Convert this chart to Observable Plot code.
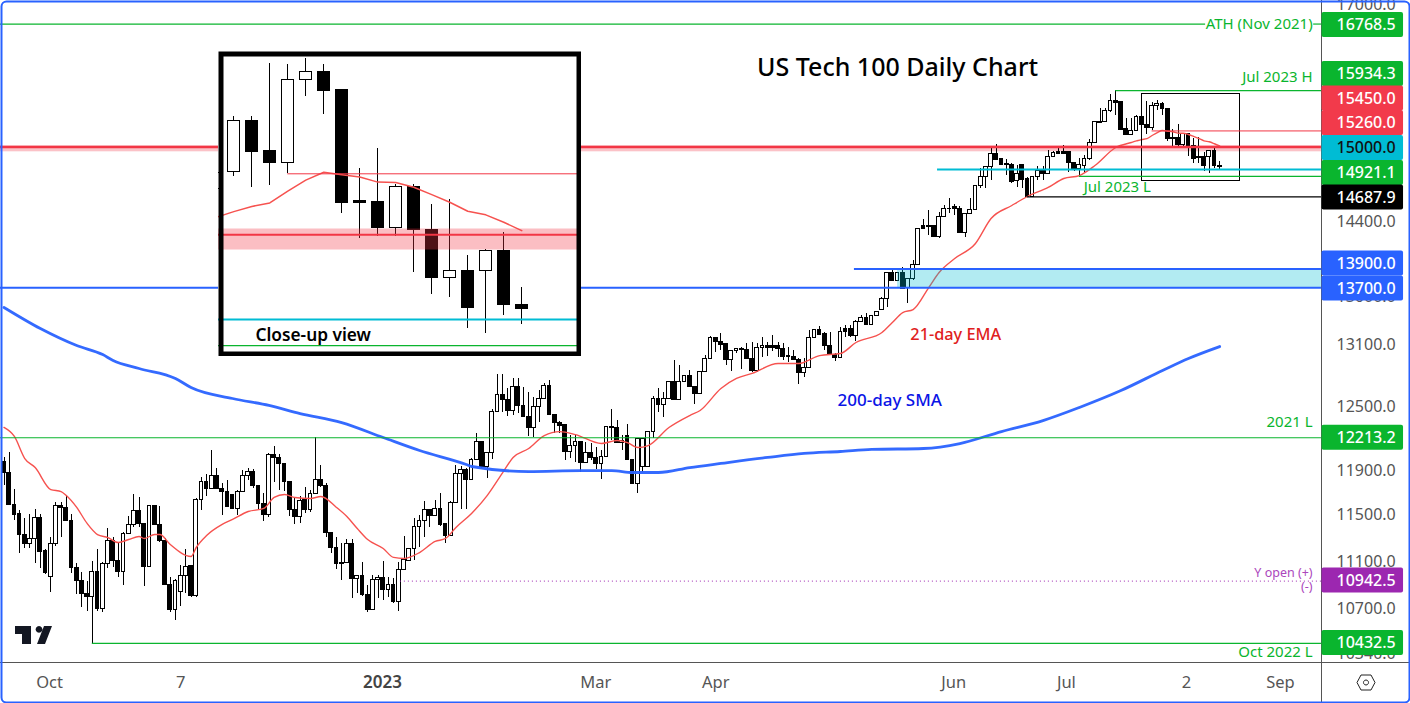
<!DOCTYPE html>
<html>
<head>
<meta charset="utf-8">
<script src="https://cdn.jsdelivr.net/npm/d3@7"></script>
<script src="https://cdn.jsdelivr.net/npm/@observablehq/plot@0.6"></script>
<style>
html,body{margin:0;padding:0;background:#fff}
#wrap{position:relative;width:1410px;height:703px;overflow:hidden}
#wrap svg{display:block}
#inset{position:absolute;left:218px;top:51px;width:363px;height:305px}
</style>
</head>
<body>
<div id="wrap"><div id="main"></div><div id="inset"></div></div>
<script>
const open = [
11984,11889,11602,11516,11337,11259,11302,11486,11194,10978,
11259,11592,11575,11460,11057,10944,10839,10808,11020,10713,
11088,11285,11111,11020,11343,11425,11548,11434,11063,11592,
11425,11288,10911,10704,10853,10989,11066,10820,11646,11807,
11741,11861,11744,11717,11693,11566,11714,11861,11898,11771,
11608,11510,12054,12027,11971,11807,11557,11492,11640,11554,
11699,11825,11774,11354,11225,11097,11094,11259,10961,10986,
10828,10704,10950,10970,10867,10914,10767,11038,11114,11216,
11407,11457,11557,11501,11566,11428,11331,11616,11879,11916,
11825,12008,12175,11941,12069,12458,12621,12573,12464,12699,
12516,12410,12306,12506,12580,12708,12429,12353,12334,12082,
12134,12175,11981,12073,12026,11969,12032,12315,12306,12165,
12225,12008,11786,11941,11941,12269,12583,12525,12577,12751,
12573,12748,12807,12702,12631,12846,12971,13188,13145,13118,
12961,13054,13074,13064,12974,12853,13081,13104,13098,13098,
13074,13007,12997,12964,12833,12879,13185,13266,13219,13104,
13017,12981,13276,13276,13202,13347,13388,13314,13409,13464,
13588,13860,13777,13860,13696,13788,13944,14362,14370,14362,
14242,14469,14558,14570,14558,14286,14499,14540,14813,14910,
15027,15181,15116,15066,15054,14874,15054,14893,14692,14912,
14988,14950,15147,15197,15197,15197,15077,15008,15039,15124,
15310,15558,15554,15686,15806,15798,15475,15403,15455,15615,
15521,15485,15746,15771,15715,15364,15363,15280,15409,15276,
15128,15149,15149,15210,15045];
const high = [
12027,12074,11735,11551,11478,11513,11557,11516,11208,11311,
11622,11622,11684,11516,11094,11015,10939,11111,11211,11097,
11390,11311,11259,11358,11498,11690,11670,11434,11592,11598,
11586,11302,10970,10953,11074,11211,11066,11655,11849,11870,
12094,11928,11789,11819,11693,11729,11910,11925,11916,11771,
11699,12070,12131,12057,11977,11807,11670,11675,11753,11729,
12213.2,11956,11789,11354,11317,11259,11294,11294,10983,11100,
10905,10992,10986,11108,10975,10961,11103,11323,11216,11478,
11507,11634,11557,11640,11699,11428,11634,11956,11947,11925,
12020,12256,12175,12069,12477,12820,12820,12679,12777,12777,
12696,12647,12599,12663,12735,12761,12429,12366,12334,12234,
12234,12175,12172,12156,12119,12094,12315,12477,12375,12234,
12338,12008,12203,12209,12269,12605,12679,12647,12751,12958,
12908,12807,12859,12702,12846,13007,13198,13188,13226,13125,
13057,13081,13091,13125,13141,13125,13185,13141,13208,13141,
13125,13091,13057,12974,12974,13259,13266,13300,13242,13242,
13024,13293,13310,13310,13361,13412,13429,13409,13447,13602,
13860,13901,13860,13918,13788,13990,14333,14432,14536,14370,
14517,14592,14667,14603,14581,14499,14667,14813,15007,15035,
15240,15291,15124,15112,15073,15047,15054,14912,14920,15035,
15035,15220,15212,15240,15275,15197,15077,15124,15162,15349,
15554,15714,15714,15886,15934.3,15798,15594,15594,15629,15631,
15800,15795,15816,15795,15715,15466,15530,15415,15415,15355,
15369,15196,15214,15266,15097];
const low = [
11774,11596,11463,11179,11216,11222,11094,11052,10995,10848,
11240,11317,11457,11009,10831,10726,10694,10432.5,10694,10685,
11052,11054,10975,10905,11340,11398,11398,10900,11054,11419,
11273,10902,10685,10617,10732,10836,10808,10808,11551,11675,
11741,11738,11507,11574,11557,11507,11708,11819,11747,11557,
11457,11492,11804,11729,11723,11498,11425,11440,11522,11534,
11693,11759,11317,11179,11038,10947,11088,10795,10836,10817,
10685,10699,10795,10781,10803,10754,10694,11032,11108,11117,
11231,11311,11405,11498,11413,11265,11323,11610,11560,11563,
11819,12002,11925,11834,12011,12455,12455,12413,12423,12445,
12400,12225,12218,12360,12573,12423,12250,12250,12002,12017,
11987,11894,11972,12002,11916,11825,12026,12187,12156,12094,
12008,11783,11699,11894,11935,12203,12455,12407,12573,12567,
12567,12748,12696,12529,12628,12843,12968,13041,13057,12908,
12853,13024,12866,12964,12843,12843,12991,12997,13050,12991,
12958,12941,12958,12722,12794,12876,13185,13205,13057,13007,
12951,12978,13192,13192,13151,13344,13310,13310,13409,13459,
13498,13777,13770,13689,13533,13777,13937,14333,14260,14235,
14224,14462,14499,14480,14279,14242,14499,14535,14780,14780,
14874,15105,15047,14931,14836,14799,14780,14685,14688,14874,
14874,14942,15143,15180,15180,14969,14980,14931,14969,15105,
15300,15534,15545,15675,15630,15455,15396,15396,15440,15408,
15413,15450,15694,15636,15325,15249,15255,15255,15145,15075,
15068,14972,14957,15012,14986];
const close = [
11886,11602,11510,11334,11259,11302,11486,11188,11009,11259,
11592,11572,11460,11052,10941,10834,10808,11020,10713,11085,
11285,11111,11018,11346,11425,11548,11431,11060,11592,11425,
11282,10908,10702,10944,10989,11063,10817,11646,11807,11741,
11861,11744,11714,11580,11563,11717,11861,11898,11768,11608,
11510,12054,12024,11968,11804,11557,11492,11637,11557,11699,
11825,11774,11351,11225,11085,11085,11259,10958,10983,10825,
10699,10953,10967,10867,10911,10767,11038,11117,11216,11405,
11460,11557,11504,11563,11419,11331,11619,11879,11916,11822,
12008,12175,11941,12069,12458,12621,12573,12464,12699,12512,
12407,12306,12506,12580,12705,12426,12350,12328,12079,12134,
12175,11981,12073,12023,11969,12035,12315,12306,12162,12187,
12008,11786,12203,12203,12269,12583,12525,12583,12751,12573,
12751,12807,12699,12631,12846,12974,13188,13145,13111,12961,
13050,13074,13061,12968,12850,13084,13104,13084,13081,13074,
12997,12991,12961,12833,12879,13185,13266,13212,13101,13014,
12981,13246,13242,13202,13347,13385,13314,13409,13447,13588,
13860,13777,13860,13689,13788,13944,14333,14333,14359,14242,
14469,14555,14551,14558,14286,14499,14540,14813,14910,15027,
15181,15112,15054,15047,14855,14950,14882,14692,14912,14980,
14950,15147,15193,15185,15185,15073,15008,15047,15124,15310,
15554,15550,15686,15806,15790,15467,15403,15451,15615,15519,
15484,15746,15771,15713,15358,15359,15280,15409,15275,15126,
15149,15035,15210,15044,15032];

const emaBar = [0,2,4,6,9,11,12,14,16,18,20,22,24,26,27,29,30,32,36,37,39,42,44,47,50,52,54,56,59,61,64,66,68,70,73,75,77,80,83,85,87,90,93,96,98,101,104,107,110,115,118,120,122,124,128,132,134,138,141,144,149,153,157,161,164,169,171,173,175,178,180,183,187,190,194,197,201,204,207,210,214,217,218,219,220,221,222,223,224,225,226,227,228,229,230,231,232,233,234];
const emaValue = [12310,12225,12020,11937,11738,11720,11684,11578,11437,11340,11314,11271,11297,11323,11306,11340,11340,11254,11151,11228,11331,11428,11472,11542,11569,11667,11693,11667,11658,11675,11578,11498,11393,11297,11219,11143,11134,11185,11280,11306,11402,11525,11684,11892,12030,12113,12234,12271,12243,12159,12187,12168,12122,12140,12309,12423,12471,12683,12781,12830,12928,12928,13007,13027,13138,13239,13341,13443,13474,13703,13862,14011,14173,14447,14592,14693,14795,14897,14931,15046,15255,15314,15332,15348,15359,15396,15430,15455,15447,15440,15424,15423,15408,15385,15361,15333,15322,15299,15273];

const smaBar = [0,7,14,19,21,26,33,36,44,51,57,65,73,80,89,90,101,111,117,121,126,132,138,147,154,161,167,177,184,192,200,207,215,223,228,234];
const smaValue = [13495,13279,13107,13017,12958,12879,12781,12692,12586,12519,12442,12356,12215,12094,11965,11947,11901,11910,11910,11892,11892,11937,11975,12030,12067,12085,12104,12113,12159,12271,12375,12500,12663,12859,12978,13097];

const levelValue = [16768.5,16768.5,15934.3,15450,15260,15000,14921.1,14687.9,13900,13700,12213.2,10942.5,10432.5];
const levelFrom  = [-0.7,252.1,214,221,-0.7,179.7,207,197,163.7,-0.7,-0.7,76.3,17];
const levelTo    = [231.3,253.6,253.6,253.6,253.6,253.6,253.6,253.6,253.6,253.6,253.6,253.6,253.6];
const levelColor = ["#0ab52e","#0ab52e","#0ab52e","#f23645","#f23645","#00bcd4","#0ab52e","#000000","#2962ff","#2962ff","#0ab52e","#9c27b0","#0ab52e"];
const levelWidth = [1.2,1.2,1.2,1,2.5,2,1.2,1.2,2,2,1.2,1,1.2];

const priceTicks = [17000,14400,13600,13100,12500,11900,11500,11100,10700,10340];
const badgeLabel = ["16768.5","15934.3","15450.0","15260.0","15000.0","14921.1","14687.9","13900.0","13700.0","12213.2","10942.5","10432.5"];
const badgeCenter = [16756,16139,15839,15544,15249,14960,14682,13958,13693,12213,10948,10435];
const badgeFill = ["#0ab52e","#0ab52e","#f23a4b","#f23a4b","#00bcd4","#0ab52e","#000000","#2962ff","#2962ff","#0ab52e","#9c27b0","#0ab52e"];
const badgeText = ["#fff","#fff","#fff","#fff","#111","#fff","#fff","#fff","#fff","#fff","#fff","#fff"];

const timeLabel = ["Oct","7","2023","Mar","Apr","Jun","Jul","2","Sep"];
const timeBar = [8.76,34,72.86,113.9,137,182.8,204.5,227.6,245.7];

const noteText = ["ATH (Nov 2021)","Jul 2023 H","2021 L","Oct 2022 L","Y open (+)","(-)"];
const noteBar = [251.9,251.9,251.9,251.9,251.9,251.9];
const notePrice = [16768.5,16095,12356,10360,11014,10897];
const noteColor = ["#0ab52e","#0ab52e","#0ab52e","#0ab52e","#ab47bc","#ab47bc"];
const noteSize = [15,15,15,15,12.5,12.5];

const bars = open.map((o,i)=>({i,o,h:high[i],l:low[i],c:close[i],t:Math.max(o,close[i]),b:Math.min(o,close[i]),up:close[i]>o}));
const ema = emaBar.map((i,k)=>({i,v:emaValue[k]}));
const sma = smaBar.map((i,k)=>({i,v:smaValue[k]}));
const levels = levelValue.map((v,k)=>({v,a:levelFrom[k],b:levelTo[k],c:levelColor[k],w:levelWidth[k]}));
const solidLevels = levels.filter(d=>d.v!==10942.5);
const dottedLevels = levels.filter(d=>d.v===10942.5);
const badges = badgeLabel.map((t,k)=>({t,v:badgeCenter[k],f:badgeFill[k],c:badgeText[k]}));
const times = timeLabel.map((t,k)=>({t,i:timeBar[k]}));
const notes = noteText.map((t,k)=>({t,i:noteBar[k],v:notePrice[k],c:noteColor[k],s:noteSize[k]}));

const FONT = "'Noto Sans',sans-serif";
const HALF = 1.0096;
const BAR_AXIS = 253.6, BADGE_L = 253.7, BADGE_R = 269.4, TICK_X = 267.9;
const AXIS_LOW = 10281, BOTTOM = 9963, TOP = 17074, TIME_Y = 10124;

function candles(half, sw){
  return [
    Plot.ruleX(bars,{x:"i",y1:"l",y2:"h",stroke:"#000",strokeWidth:sw,shapeRendering:"crispEdges",clip:"frame"}),
    Plot.rect(bars,{x1:d=>d.i-half,x2:d=>d.i+half,y1:"b",y2:"t",fill:d=>d.up?"#fff":"#000",stroke:"#000",strokeWidth:1,shapeRendering:"crispEdges",clip:"frame"})
  ];
}
function customPath(d, attrs){
  return () => {
    const p = d3.create("svg:path").attr("d",d);
    Object.entries(attrs).forEach(([k,v])=>p.attr(k,v));
    return p.node();
  };
}

const main = Plot.plot({
  width:1410,height:703,margin:0,
  style:{background:"#fff",fontFamily:FONT},
  x:{type:"linear",domain:[-0.674,270.74],range:[0,1410],axis:null},
  y:{type:"log",domain:[BOTTOM,TOP],range:[703,0],axis:null},
  marks:[
    Plot.rect([{}],{x1:-0.7,x2:253.6,y1:15205,y2:15275,fill:"#f23645",fillOpacity:0.3}),
    ...candles(0.36,1),
    Plot.line(ema,{x:"i",y:"v",stroke:"#f6524f",strokeWidth:1.4,curve:"monotone-x"}),
    Plot.line(sma,{x:"i",y:"v",stroke:"#2962ff",strokeWidth:2.8,strokeOpacity:0.95,curve:"monotone-x"}),
    Plot.rect([{}],{x1:172,x2:253.6,y1:13700,y2:13900,fill:"#00bcd4",fillOpacity:0.3}),
    Plot.rect([{}],{x1:219,x2:238,y1:14863,y2:15898,fill:"none",stroke:"#000",strokeWidth:1,shapeRendering:"crispEdges"}),
    Plot.ruleY(solidLevels,{y:"v",x1:"a",x2:"b",stroke:"c",strokeWidth:"w"}),
    Plot.ruleY(dottedLevels,{y:"v",x1:"a",x2:"b",stroke:"c",strokeWidth:"w",strokeDasharray:"1,3"}),
    Plot.text(notes,{x:"i",y:"v",text:"t",textAnchor:"end",fill:"c",fontSize:"s"}),
    Plot.text(["Jul 2023 L"],{x:214.3,y:14794,text:d=>d,fontSize:15,fill:"#0ab52e"}),
    Plot.text(["US Tech 100 Daily Chart"],{x:172,y:16219,text:d=>d,fontSize:25,fontWeight:500,fill:"#000"}),
    Plot.text(["21-day EMA"],{x:183.2,y:13218,text:d=>d,fontSize:16.3,fontWeight:500,fill:"#e02020"}),
    Plot.text(["200-day SMA"],{x:170.5,y:12567,text:d=>d,fontSize:17,fontWeight:500,fill:"#0a14e6"}),
    Plot.ruleX([BAR_AXIS],{y1:BOTTOM,y2:TOP,stroke:"#555",strokeWidth:1,shapeRendering:"crispEdges"}),
    Plot.ruleY([AXIS_LOW],{x1:-0.7,x2:271,stroke:"#555",strokeWidth:1,shapeRendering:"crispEdges"}),
    Plot.text(priceTicks,{x:TICK_X,y:d=>d,text:d=>d.toFixed(1),textAnchor:"end",fontSize:16,fill:"#555",dy:-1}),
    Plot.rect(badges,{x1:BADGE_L,x2:BADGE_R,y1:d=>d.v/HALF,y2:d=>d.v*HALF,fill:"f",rx:2}),
    Plot.text(badges,{x:TICK_X,y:"v",text:"t",textAnchor:"end",fontSize:16,fontWeight:500,fill:"c"}),
    Plot.text(times.filter(d=>d.t!=="2023"),{x:"i",y:TIME_Y,text:"t",fontSize:16.5,fill:"#555"}),
    Plot.text(times.filter(d=>d.t==="2023"),{x:"i",y:TIME_Y,text:"t",fontSize:17,fill:"#444",fontWeight:600}),
    customPath("M15 626H31V644H22V634H15ZM44 626H52L45 644H37ZM39 626a3.4 3.4 0 1 0 .01 0Z",{fill:"#131722"}),
    customPath("M1361 675H1371L1375 682.5L1371 690H1361L1357 682.5Z",{fill:"none",stroke:"#222",strokeWidth:1.2}),
    customPath("M1366 680a2.5 2.5 0 1 0 .01 0Z",{fill:"none",stroke:"#222",strokeWidth:1.2}),
    Plot.frame({stroke:"#2962ff",strokeWidth:2,inset:1,rx:5})
  ]
});
document.getElementById("main").append(main);

const inset = Plot.plot({
  width:363,height:305,margin:0,
  style:{background:"#fff",fontFamily:FONT,overflow:"hidden"},
  x:{type:"linear",domain:[217.15,237.32],range:[0,363],axis:null},
  y:{type:"log",domain:[14888,15838],range:[305,0],axis:null},
  marks:[
    ...candles(0.32,1),
    Plot.line(ema.filter(d=>d.i>=217),{x:"i",y:"v",stroke:"#f6524f",strokeWidth:1.5,clip:"frame"}),
    Plot.rect([{}],{x1:217.15,x2:237.32,y1:15213,y2:15278,fill:"#f23645",fillOpacity:0.32}),
    Plot.ruleY([15450],{x1:221,x2:237.32,stroke:"#f23645",strokeWidth:1}),
    Plot.ruleY([15260],{x1:217.15,x2:237.32,stroke:"#f23645",strokeWidth:2}),
    Plot.ruleY([15000],{x1:217.15,x2:237.32,stroke:"#00bcd4",strokeWidth:2}),
    Plot.ruleY([14921.1],{x1:217.15,x2:237.32,stroke:"#0ab52e",strokeWidth:1.2}),
    Plot.text(["Close-up view"],{x:219.2,y:14951,text:d=>d,textAnchor:"start",fontSize:17.3,fontWeight:600,fill:"#000"}),
    Plot.frame({stroke:"#000",strokeWidth:5,inset:2.5})
  ]
});
document.getElementById("inset").append(inset);
</script>
</body>
</html>
